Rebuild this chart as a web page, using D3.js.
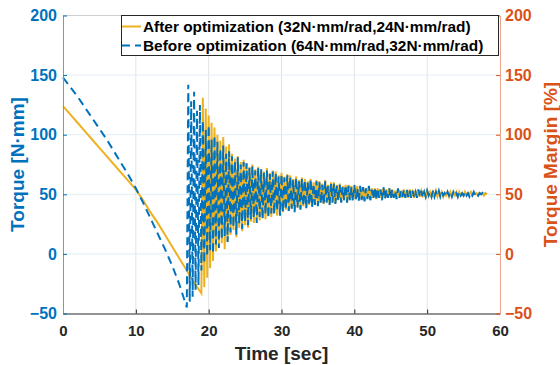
<!DOCTYPE html>
<html>
<head>
<meta charset="utf-8">
<script src="https://cdn.jsdelivr.net/npm/d3@7"></script>
<style>
  body { margin: 0; background: #fff; }
  svg { display: block; }
  text { font-family: "Liberation Sans", Arial, sans-serif; font-weight: bold; }
</style>
</head>
<body>
<script>
// ramp part before the oscillation starts (one sample per second)
const blueRampT = [0, 1, 2, 3, 4, 5, 6, 7, 8, 9, 10, 11, 12, 13, 14, 15, 16];
const blueRamp = [148, 140, 132, 123, 114, 105, 96, 86, 76, 66, 55, 43, 30, 17, 4, -10, -26];
const orangeRampT = [0, 1, 2, 3, 4, 5, 6, 7, 8, 9, 10, 11, 12, 13, 14, 15, 16, 17, 18];
const orangeRamp = [124, 117, 110, 103, 96, 89, 82, 75, 68, 61, 54, 45, 35, 26, 16, 6, -4, -14, -24];

// oscillation, sampled every 0.2 s
const sampleStep = 0.2;
const blueOscStart = 17;
const blueOsc = [
  -45, 142, -40, 128, -36, 136, -30, 120, -26, 125,
  -14, 112, -8, 104, -2, 108, 3, 96, 0, 99,
  8, 94, 5, 88, 12, 91, 15, 84, 10, 86,
  18, 82, 22, 78, 16, 81, 25, 75, 21, 77,
  27, 76, 24, 72, 29, 74, 30, 70, 26, 72,
  31, 71, 29, 68, 33, 70, 30, 67, 34, 69,
  33, 68, 36, 65, 32, 67, 35, 64, 37, 66,
  36, 65, 38, 62, 35, 64, 39, 61, 37, 63,
  40, 62, 38, 60, 41, 63, 39, 59, 41, 61,
  40, 60, 42, 58, 41, 61, 43, 57, 41, 59,
  43, 59, 42, 57, 44, 58, 43, 56, 45, 58,
  43, 57, 45, 56, 44, 58, 46, 55, 44, 57,
  45, 56, 44, 55, 46, 57, 45, 54, 46, 56,
  45, 55, 47, 54, 45, 56, 46, 54, 47, 55,
  46, 54, 47, 53, 46, 55, 47, 53, 48, 54,
  47, 54, 48, 53, 47, 53, 48, 52, 47, 54,
  48, 53, 47, 52, 48, 53, 49, 52, 48, 53,
  48, 52, 49, 53, 48, 52, 49, 51, 48, 52,
  49, 52, 48, 52, 49, 51, 48, 52, 49, 51,
  49, 52, 49, 51, 48, 51, 49, 52, 49, 51,
  49, 51, 50, 51, 49, 51
];
const orangeOscStart = 19;
const orangeOsc = [
  -33, 131, -28, 122, -20, 116, -12, 110, -6, 106,
  2, 100, 6, 95, 9, 98, 4, 90, 10, 92,
  16, 84, 20, 80, 14, 82, 22, 77, 19, 79,
  24, 76, 22, 73, 27, 75, 26, 71, 29, 73,
  28, 71, 31, 69, 29, 72, 33, 68, 31, 70,
  34, 69, 32, 66, 36, 68, 35, 65, 37, 67,
  36, 66, 38, 63, 37, 65, 39, 62, 38, 64,
  40, 63, 39, 61, 41, 63, 40, 60, 42, 62,
  41, 61, 43, 59, 42, 62, 44, 58, 42, 60,
  44, 60, 43, 58, 45, 59, 44, 57, 45, 58,
  44, 58, 46, 57, 45, 56, 46, 57, 45, 56,
  46, 56, 45, 55, 47, 56, 46, 55, 47, 55,
  46, 55, 47, 54, 46, 55, 48, 54, 47, 55,
  47, 54, 48, 53, 47, 54, 48, 53, 47, 54,
  48, 53, 47, 54, 48, 52, 47, 53, 48, 53,
  48, 53, 49, 52, 48, 53, 49, 52, 48, 52,
  49, 53, 48, 52, 49, 52, 48, 51, 49, 52,
  48, 52, 49, 51, 49, 52, 48, 52, 49, 51,
  49, 52, 49, 51, 50, 52, 49, 51, 50, 51,
  49, 51, 50, 51, 49, 51, 50
];

const xTicks = [0, 10, 20, 30, 40, 50, 60];
const yTicks = [-50, 0, 50, 100, 150, 200];
const legendLabels = [
  'After optimization (32N\u00b7mm/rad,24N\u00b7mm/rad)',
  'Before optimization (64N\u00b7mm/rad,32N\u00b7mm/rad)',
];

const width = 560;
const height = 365;
const m = { left: 63, right: 500, top: 15.5, bottom: 313.5 };
const blue = '#0072BD';
const orange = '#EDB120';
const red = '#D95319';
const dash = '8,5';

const toSeries = (rampT, ramp, start, osc) =>
  rampT.map((t, i) => [t, ramp[i]])
    .concat(osc.map((v, i) => [start + i * sampleStep, v]));

const blueData = toSeries(blueRampT, blueRamp, blueOscStart, blueOsc);
const orangeData = toSeries(orangeRampT, orangeRamp, orangeOscStart, orangeOsc);

const x = d3.scaleLinear().domain([0, 60]).range([m.left, m.right]);
const y = d3.scaleLinear().domain([-50, 200]).range([m.bottom, m.top]);
const yR = d3.scaleLinear().domain([-50, 200]).range([m.bottom, m.top]);

const svg = d3.select('body').append('svg')
  .attr('width', width)
  .attr('height', height);

// grid
svg.append('g')
  .selectAll('line')
  .data(xTicks.slice(1, -1))
  .enter().append('line')
  .attr('x1', (d) => x(d)).attr('x2', (d) => x(d))
  .attr('y1', m.top).attr('y2', m.bottom)
  .attr('stroke', '#e3e3e3');
svg.append('g')
  .selectAll('line')
  .data(yTicks.slice(1, -1))
  .enter().append('line')
  .attr('x1', m.left).attr('x2', m.right)
  .attr('y1', (d) => y(d)).attr('y2', (d) => y(d))
  .attr('stroke', '#e2edf6');
svg.append('line')
  .attr('x1', m.left).attr('x2', m.right)
  .attr('y1', m.top).attr('y2', m.top)
  .attr('stroke', '#d0d0d0');

// lines
const line = d3.line().x((d) => x(d[0])).y((d) => y(d[1]));

svg.append('path')
  .datum(orangeData)
  .attr('d', line)
  .attr('fill', 'none')
  .attr('stroke', orange)
  .attr('stroke-width', 2);

svg.append('path')
  .datum(blueData)
  .attr('d', line)
  .attr('fill', 'none')
  .attr('stroke', blue)
  .attr('stroke-width', 2)
  .attr('stroke-dasharray', dash);

// axes
const xAxis = svg.append('g')
  .attr('transform', `translate(0,${m.bottom})`)
  .call(d3.axisBottom(x).tickValues(xTicks).tickSizeInner(-4).tickSizeOuter(0).tickPadding(12));
xAxis.select('.domain').attr('stroke', '#262626');
xAxis.selectAll('.tick line').attr('stroke', '#262626');
xAxis.selectAll('text').attr('fill', '#262626').style('font-size', '15px');

const yAxis = svg.append('g')
  .attr('transform', `translate(${m.left},0)`)
  .call(d3.axisLeft(y).tickValues(yTicks).tickSizeInner(-4).tickSizeOuter(0).tickPadding(6));
yAxis.select('.domain').attr('stroke', '#5fa3d6');
yAxis.selectAll('.tick line').attr('stroke', blue);
yAxis.selectAll('text').attr('fill', blue).style('font-size', '16px');

const yAxisR = svg.append('g')
  .attr('transform', `translate(${m.right},0)`)
  .call(d3.axisRight(yR).tickValues(yTicks).tickSizeInner(-4).tickSizeOuter(0).tickPadding(5));
yAxisR.select('.domain').attr('stroke', '#eda48c');
yAxisR.selectAll('.tick line').attr('stroke', red);
yAxisR.selectAll('text').attr('fill', red).style('font-size', '16px');

// titles
svg.append('text')
  .attr('x', (m.left + m.right) / 2)
  .attr('y', 360)
  .attr('text-anchor', 'middle')
  .attr('fill', '#262626')
  .style('font-size', '19px')
  .text('Time [sec]');

svg.append('text')
  .attr('transform', `translate(24,${(m.top + m.bottom) / 2}) rotate(-90)`)
  .attr('text-anchor', 'middle')
  .attr('fill', blue)
  .style('font-size', '19px')
  .text('Torque [N\u00b7mm]');

svg.append('text')
  .attr('transform', `translate(557,${(m.top + m.bottom) / 2}) rotate(-90)`)
  .attr('text-anchor', 'middle')
  .attr('fill', red)
  .style('font-size', '19px')
  .text('Torque Margin [%]');

// legend
const lg = svg.append('g');
lg.append('rect')
  .attr('x', 121.5).attr('y', 15.5)
  .attr('width', 377).attr('height', 40)
  .attr('fill', '#fff')
  .attr('stroke', '#262626');

const legendStyles = [
  { color: orange, dash: null },
  { color: blue, dash: dash },
];
legendStyles.forEach((s, i) => {
  const cy = 26.5 + i * 19;
  lg.append('line')
    .attr('x1', 122).attr('x2', 141)
    .attr('y1', cy).attr('y2', cy)
    .attr('stroke', s.color)
    .attr('stroke-width', 2)
    .attr('stroke-dasharray', s.dash);
  lg.append('text')
    .attr('x', 143)
    .attr('y', cy + 5)
    .attr('fill', '#000')
    .style('font-size', '15.4px')
    .text(legendLabels[i]);
});
</script>
</body>
</html>
